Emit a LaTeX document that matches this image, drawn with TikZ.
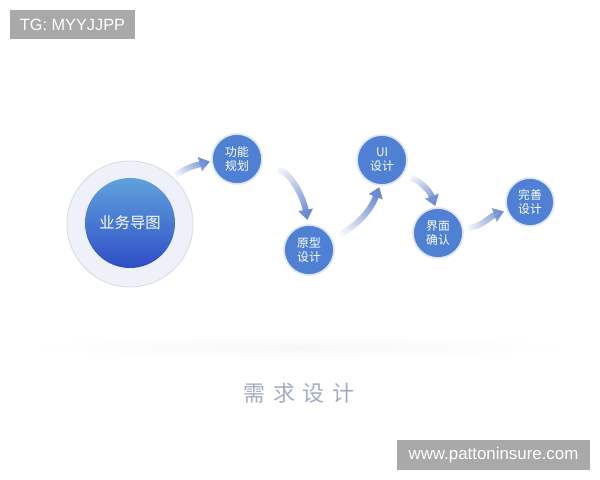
\documentclass[tikz,border=0pt]{standalone}
\usepackage{fontspec}
\setmainfont{Liberation Sans}
\newfontfamily\cjk{Noto Sans CJK SC}
\usepackage{tikz}
\usetikzlibrary{calc}
\usetikzlibrary{arrows.meta,fadings}

\definecolor{nodeblue}{HTML}{4F80D4}
\definecolor{ringblue}{HTML}{DCE6F6}
\definecolor{flowblue}{HTML}{6A8BD2}
\definecolor{haloface}{HTML}{EEF1F9}
\definecolor{haloline}{HTML}{D8DCE8}
\definecolor{coretop}{HTML}{5FA2DC}
\definecolor{corebot}{HTML}{2F4EC6}
\definecolor{titlegray}{HTML}{A3ABC4}
\definecolor{markgray}{HTML}{A9A9A9}

\begin{document}
\begin{tikzpicture}[x=0.025cm,y=0.025cm,
    stage/.style={circle, minimum size=1.25cm, inner sep=0pt, fill=nodeblue, draw=ringblue,
        line width=1.2pt, text=white, align=center, font=\cjk\fontsize{8.4}{10}\selectfont},
    flow/.style={flowblue, line width=4.2pt, -{Triangle[length=2.6mm,width=3.6mm]}},
    watermark/.style={fill=markgray, text=white, inner sep=0pt}]
        %CANVAS
        \fill[white] (0,0) rectangle (600,480);
        \useasboundingbox (0,0) rectangle (600,480);
        %SHADOW
        \shade[inner color=black!3, outer color=white] (300,133) ellipse (275 and 11);
        %BIG CIRCLE
        \node[circle, minimum size=3.15cm, fill=haloface, draw=haloline, line width=0.6pt] (big) at (130,256) {};
        \node[circle, minimum size=2.25cm, inner sep=0pt, top color=coretop, bottom color=corebot,
            text=white, font=\cjk\fontsize{10.9}{12}\selectfont] (core) at (130,257) {业务导图};
        %STAGES
        \node[stage] (gn) at (237,321) {功能\\规划};
        \node[stage] (yx) at (309,230) {原型\\设计};
        \node[stage] (ui) at (382,320) {UI\\设计};
        \node[stage] (jm) at (438,247) {界面\\确认};
        \node[stage, minimum size=1.2cm] (ws) at (530,278) {完善\\设计};
        %ARROWS
        \draw[flow, path fading=west, fading angle=30, shorten >=1pt] (big.47) to[out=40,in=195] (gn.185);
        \draw[flow, path fading=west, fading angle=-55, shorten <=12pt, shorten >=3pt] (gn.-21) to[out=-5,in=100] (yx.92);
        \draw[flow, path fading=west, fading angle=45, shorten <=6pt, shorten >=1pt] (yx.25) to[out=30,in=-110] (ui.-95);
        \draw[flow, path fading=west, fading angle=-50, shorten <=6pt, shorten >=1pt] (ui.-35) to[out=-20,in=110] (jm.95);
        \draw[flow, path fading=west, fading angle=15, shorten <=3pt, shorten >=2pt] (jm.10) to[out=5,in=200] (ws.200);
        %TITLE
        \node[text=titlegray, font=\cjk\fontsize{15.6}{18}\selectfont] (title) at (299,87)
            {需\hspace{5.5pt}求\hspace{5.5pt}设\hspace{5.5pt}计};
        %WATERMARKS
        \node[watermark, minimum width=3.125cm, minimum height=0.725cm, font=\fontsize{11.6}{13}\selectfont] (tg) at (72.5,455.5) {TG: MYYJJPP};
        \node[watermark, minimum width=4.825cm, minimum height=0.75cm, font=\fontsize{12}{14}\selectfont] (site) at (493.5,25) {www.pattoninsure.com};
\end{tikzpicture}
\end{document}
